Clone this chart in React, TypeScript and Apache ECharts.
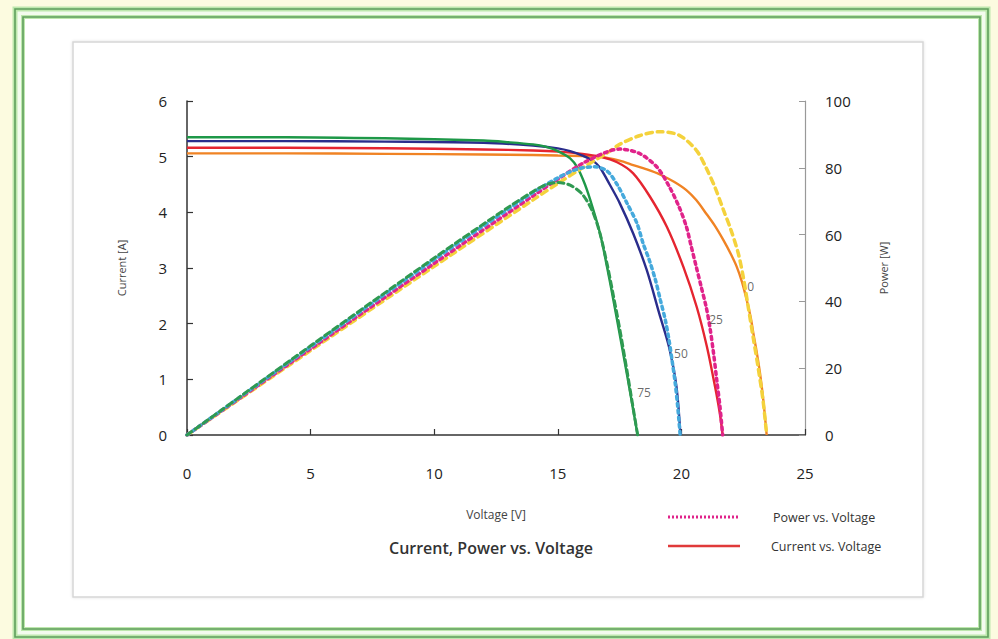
import React, { useEffect, useRef } from 'react';
import * as echarts from 'echarts';

// ---- Current vs. Voltage (A) ----
const vCur0 = [0, 4, 8, 12, 14, 15, 16, 16.7, 17.5, 18.05, 18.6, 19.13, 19.7, 20.2, 20.6, 21.0, 21.35, 21.7, 22.0, 22.24, 22.45, 22.64, 22.8, 22.91, 23.05, 23.18, 23.32, 23.45];
const iCur0 = [5.06, 5.06, 5.05, 5.04, 5.03, 5.02, 5.01, 5.0, 4.93, 4.85, 4.77, 4.68, 4.55, 4.4, 4.22, 3.98, 3.76, 3.5, 3.25, 3.02, 2.75, 2.43, 2.12, 1.83, 1.48, 1.11, 0.6, 0];
const vCur25 = [0, 4, 8, 12, 14, 15, 16, 16.7, 17.4, 18.05, 18.73, 19.41, 20.08, 20.62, 21.03, 21.36, 21.55, 21.67];
const iCur25 = [5.16, 5.16, 5.15, 5.13, 5.11, 5.09, 5.05, 5.0, 4.9, 4.7, 4.28, 3.74, 3.02, 2.3, 1.59, 0.87, 0.4, 0];
const vCur50 = [0, 4, 8, 12, 14, 15, 15.5, 16, 16.44, 16.71, 17.1, 17.5, 18.05, 18.6, 19.1, 19.5, 19.8, 19.96];
const iCur50 = [5.28, 5.28, 5.27, 5.25, 5.2, 5.15, 5.1, 5.02, 4.92, 4.8, 4.5, 4.17, 3.62, 2.96, 2.19, 1.58, 0.87, 0];
const vCur75 = [0, 4, 8, 12, 13, 14, 14.5, 15, 15.5, 15.8, 16.1, 16.4, 16.71, 17.0, 17.25, 17.5, 17.8, 18.05, 18.23];
const iCur75 = [5.35, 5.35, 5.33, 5.29, 5.26, 5.22, 5.18, 5.1, 4.97, 4.8, 4.5, 4.1, 3.62, 3.0, 2.42, 1.82, 1.08, 0.45, 0];

// ---- Power vs. Voltage (W) ----
const vPow0 = [0, 5, 10, 14, 15, 16, 17, 17.5, 18.3, 19.1, 19.9, 20.6, 21.0, 21.35, 21.7, 22.0, 22.3, 22.5, 22.7, 22.9, 23.1, 23.3, 23.45];
const pPow0 = [0, 25.3, 50.5, 70.4, 75.3, 80.0, 84.5, 87.0, 89.6, 90.8, 89.8, 85.3, 80.0, 74.3, 67.4, 61.5, 54.4, 47.4, 38.5, 29.4, 20.4, 10.5, 0];
const vPow25 = [0, 5, 10, 14, 15, 16, 17, 17.5, 18.3, 19.0, 19.5, 19.9, 20.2, 20.4, 20.6, 20.8, 21.0, 21.15, 21.3, 21.43, 21.56, 21.67];
const pPow25 = [0, 25.8, 51.4, 71.6, 76.6, 81.3, 84.8, 85.6, 84.3, 80.3, 74.5, 68.4, 62.4, 56.4, 50.4, 44.4, 38.4, 32.4, 24.5, 16.5, 8.5, 0];
const vPow50 = [0, 5, 10, 14, 15, 15.5, 16, 16.5, 17, 17.4, 17.8, 18.2, 18.45, 18.7, 18.95, 19.15, 19.35, 19.5, 19.62, 19.75, 19.85, 19.95];
const pPow50 = [0, 26.4, 52.5, 72.6, 77.0, 78.8, 80.0, 80.3, 79.0, 75.0, 69.4, 63.4, 57.4, 52.4, 46.4, 40.4, 34.4, 28.4, 22.5, 15.5, 8.5, 0];
const vPow75 = [0, 5, 10, 13, 14, 14.5, 15, 15.5, 16, 16.4, 16.7, 17.0, 17.25, 17.5, 17.8, 18.05, 18.23];
const pPow75 = [0, 26.7, 53.0, 68.2, 72.9, 74.9, 75.6, 74.8, 72.0, 67.0, 60.5, 51.0, 41.7, 32.0, 19.2, 8.0, 0];

// ---- Temperature labels on the curves ----
const tempLabels = ['0', '25', '50', '75'];
const tempLabelV = [22.8, 21.4, 19.98, 18.49];
const tempLabelI = [2.66, 2.07, 1.46, 0.77];

const xTicks = { min: 0, max: 25, interval: 5 };
const yLeftTicks = { min: 0, max: 6, interval: 1 };
const yRightTicks = { min: 0, max: 100, interval: 20 };

const FONT = '"Open Sans", "Noto Sans", sans-serif';

const zip = (a: number[], b: number[]) => a.map((v, i) => [v, b[i]]);

export default function App() {
  const ref = useRef<HTMLDivElement>(null);
  useEffect(() => {
    document.body.style.margin = '0';
    const chart = echarts.init(ref.current!, null, { renderer: 'svg' });

    const curLine = (name: string, v: number[], i: number[], color: string) => ({
      name,
      type: 'line',
      yAxisIndex: 0,
      data: zip(v, i),
      showSymbol: false,
      symbol: 'none',
      smooth: 0.3,
      lineStyle: { color, width: 2.4 },
      z: 3,
    });
    const powLine = (name: string, v: number[], p: number[], color: string, dash: number[], width: number) => ({
      name,
      type: 'line',
      yAxisIndex: 1,
      data: zip(v, p),
      showSymbol: false,
      symbol: 'none',
      smooth: 0.3,
      lineStyle: { color, width, type: dash, cap: 'round' },
      z: 4,
    });

    const option: any = {
      animation: false,
      backgroundColor: '#fcfbe0',
      textStyle: { fontFamily: FONT },
      graphic: [
        { type: 'rect', z: -10, shape: { x: 15, y: 9, width: 973, height: 628 }, style: { fill: '#f3fbee', stroke: '#bde7ad', lineWidth: 5 } },
        { type: 'rect', z: -9, shape: { x: 15, y: 9, width: 973, height: 628 }, style: { fill: 'none', stroke: '#5f9f5c', lineWidth: 1.6 } },
        { type: 'rect', z: -8, shape: { x: 23, y: 17, width: 957, height: 612 }, style: { fill: '#ffffff', stroke: '#bde7ad', lineWidth: 4 } },
        { type: 'rect', z: -7, shape: { x: 23, y: 17, width: 957, height: 612 }, style: { fill: 'none', stroke: '#5f9f5c', lineWidth: 1.6 } },
        { type: 'rect', z: -6, shape: { x: 73, y: 42, width: 850, height: 555 }, style: { fill: '#ffffff', stroke: '#d6d6d6', lineWidth: 1.5, shadowBlur: 3, shadowColor: 'rgba(0,0,0,0.12)' } },
        { type: 'text', x: 491, y: 548, style: { text: 'Current, Power vs. Voltage', fontSize: 16, fontWeight: 600, fontFamily: FONT, fill: '#333', align: 'center', verticalAlign: 'middle' } },
        { type: 'line', shape: { x1: 668, y1: 517, x2: 740, y2: 517 }, style: { stroke: '#e0238a', lineWidth: 3, lineDash: [2, 2] } },
        { type: 'text', x: 773, y: 517, style: { text: 'Power vs. Voltage', fontSize: 12.5, fontFamily: FONT, fill: '#333', verticalAlign: 'middle' } },
        { type: 'line', shape: { x1: 668, y1: 546, x2: 740, y2: 546 }, style: { stroke: '#e03a3a', lineWidth: 2.5 } },
        { type: 'text', x: 771, y: 546, style: { text: 'Current vs. Voltage', fontSize: 12.5, fontFamily: FONT, fill: '#333', verticalAlign: 'middle' } },
      ],
      grid: { left: 187, right: 193, top: 101, bottom: 204 },
      xAxis: {
        type: 'value',
        ...xTicks,
        name: 'Voltage [V]',
        nameLocation: 'middle',
        nameGap: 73,
        nameTextStyle: { fontSize: 12, color: '#444', fontFamily: FONT },
        axisLine: { show: true, lineStyle: { color: '#333', width: 1.5 } },
        axisTick: { show: true, inside: true, length: 6, lineStyle: { color: '#333', width: 1.2 } },
        axisLabel: { margin: 30, fontSize: 15, color: '#222', fontFamily: FONT },
        splitLine: { show: false },
      },
      yAxis: [
        {
          type: 'value',
          position: 'left',
          ...yLeftTicks,
          name: 'Current [A]',
          nameLocation: 'middle',
          nameGap: 60,
          nameRotate: 90,
          nameTextStyle: { fontSize: 11, color: '#444', fontFamily: FONT },
          axisLine: { show: true, lineStyle: { color: '#333', width: 1.5 } },
          axisTick: { show: true, inside: true, length: 6, lineStyle: { color: '#333', width: 1.2 } },
          axisLabel: { margin: 20, fontSize: 15, color: '#222', fontFamily: FONT },
          splitLine: { show: false },
        },
        {
          type: 'value',
          position: 'right',
          ...yRightTicks,
          name: 'Power [W]',
          nameLocation: 'middle',
          nameGap: 73,
          nameRotate: 90,
          nameTextStyle: { fontSize: 11, color: '#444', fontFamily: FONT },
          axisLine: { show: true, lineStyle: { color: '#999', width: 1.2 } },
          axisTick: { show: true, inside: true, length: 6, lineStyle: { color: '#999', width: 1 } },
          axisLabel: { margin: 20, fontSize: 15, color: '#222', fontFamily: FONT },
          splitLine: { show: false },
        },
      ],
      series: [
        powLine('P 0', vPow0, pPow0, '#f4d23c', [6, 5], 3.5),
        powLine('P 25', vPow25, pPow25, '#e0238a', [3, 4], 3.5),
        powLine('P 50', vPow50, pPow50, '#45a9dc', [3, 4], 3.5),
        powLine('P 75', vPow75, pPow75, '#2f9a52', [6, 4], 3),
        curLine('I 0', vCur0, iCur0, '#f08324'),
        curLine('I 25', vCur25, iCur25, '#e52530'),
        curLine('I 50', vCur50, iCur50, '#2a2d8c'),
        curLine('I 75', vCur75, iCur75, '#1e9848'),
        {
          name: 'labels',
          type: 'scatter',
          yAxisIndex: 0,
          symbolSize: 0,
          z: 5,
          data: tempLabels.map((n, k) => ({ name: n, value: [tempLabelV[k], tempLabelI[k]] })),
          label: { show: true, position: 'inside', formatter: '{b}', fontSize: 12, color: '#444', fontFamily: FONT },
        },
      ],
    };
    chart.setOption(option);
    return () => chart.dispose();
  }, []);
  return <div ref={ref} style={{ width: 998, height: 639 }} />;
}
